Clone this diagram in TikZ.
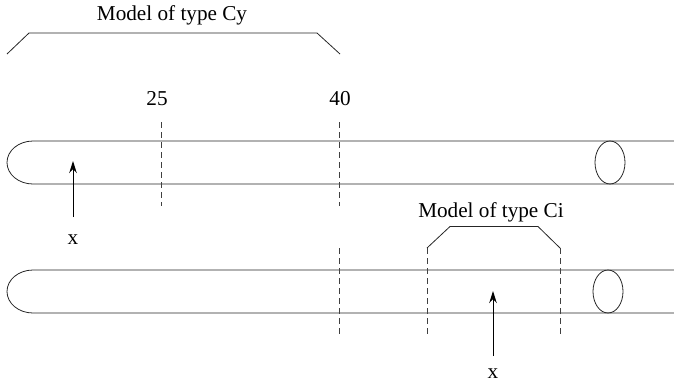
\documentclass[tikz,border=0pt]{standalone}
\usepackage{fontspec}
\setmainfont{Liberation Serif}
\usetikzlibrary{arrows.meta}
\tikzset{
  lbl/.style={inner sep=0pt, anchor=base, font=\fontsize{21.2}{25}\selectfont},
  tube/.style={line width=0.8pt, draw=black!85},
  cut/.style={line width=0.8pt, draw=black!75, dash pattern=on 6pt off 4pt},
  brk/.style={line width=0.8pt, draw=black!85},
  ptr/.style={line width=0.9pt, -{Stealth[length=12pt,width=7.5pt]}}
}
\begin{document}
\begin{tikzpicture}[x=1pt,y=-1pt]
\useasboundingbox (0,0) rectangle (674,384);
% top tube
\draw[tube] (674,141) -- (33,141) arc[start angle=90, end angle=270, x radius=26, y radius=-21.5] -- (674,184);
\draw[tube] (610,162.5) ellipse[x radius=15, y radius=21.5];
% bottom tube
\draw[tube] (674,270) -- (33,270) arc[start angle=90, end angle=270, x radius=26, y radius=-21.5] -- (674,313);
\draw[tube] (608,291.5) ellipse[x radius=15, y radius=21.5];
% labels
\node[lbl] (cy) at (172,20) {Model of type Cy};
\node[lbl] (ci) at (491,217) {Model of type Ci};
\node[lbl] (n25) at (157,105) {25};
\node[lbl] (n40) at (340,105) {40};
\node[lbl] (x1) at (73,244) {x};
\node[lbl] (x2) at (493,378) {x};
% Cy bracket
\draw[brk] (7,54) -- (29,33) -- (317,33) -- (340,54);
% dashed cuts
\coordinate (c25a) at (161,122); \coordinate (c25b) at (161,206);
\coordinate (c40a) at (339,122); \coordinate (c40b) at (339,206);
\coordinate (c40c) at (339,248); \coordinate (c40d) at (339,334);
\coordinate (cia) at (427,248); \coordinate (cib) at (427,334);
\coordinate (cic) at (560,248); \coordinate (cid) at (560,334);
\draw[cut] (c25a) -- (c25b);
\draw[cut] (c40a) -- (c40b);
\draw[cut] (c40c) -- (c40d);
\draw[cut] (cia) -- (cib);
\draw[cut] (cic) -- (cid);
% Ci bracket
\draw[brk] (cia) -- (450,226.5) -- (538,226.5) -- (cic);
% arrows
\coordinate (t1) at (73,161);
\coordinate (t2) at (493,291);
\draw[ptr] (73,217) -- (t1);
\draw[ptr] (493,356) -- (t2);
\end{tikzpicture}
\end{document}
